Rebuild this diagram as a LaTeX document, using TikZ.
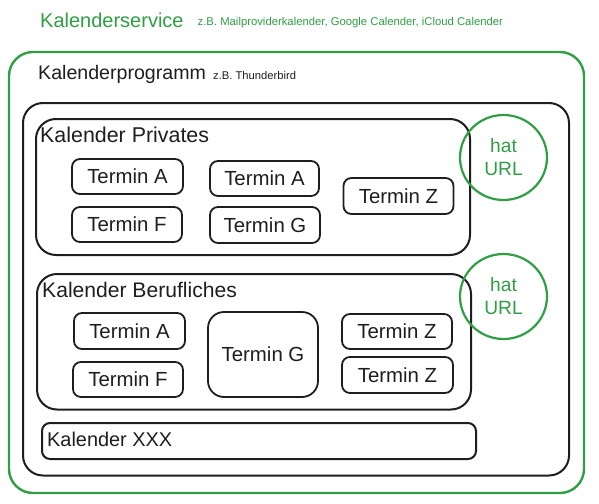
\documentclass[tikz,border=0pt]{standalone}
\usepackage{fontspec}
\setmainfont{Liberation Sans}
\usetikzlibrary{shapes.geometric}
\definecolor{exgreen}{HTML}{2F9E44}
\definecolor{ink}{HTML}{1E1E1E}
\tikzset{
  tbox/.style={draw=ink, line width=1.8pt, rounded corners=8pt, inner sep=0pt, text=ink,
    font=\fontsize{20.4}{24}\selectfont},
  frame/.style={draw=ink, line width=2pt, rounded corners=20pt, inner sep=0pt},
  gframe/.style={draw=exgreen, line width=2.4pt, rounded corners=24pt, inner sep=0pt},
  lbl/.style={anchor=base west, inner sep=0pt, text=ink},
  urlc/.style={draw=exgreen, line width=2.2pt, ellipse, inner sep=0pt, text=exgreen, align=center,
    font=\fontsize{19.2}{23}\selectfont}
}
\begin{document}
\begin{tikzpicture}[x=1pt,y=-1pt]
\useasboundingbox (0,0) rectangle (599,503);
% titles
\node[lbl, text=exgreen, font=\fontsize{20}{24}\selectfont] (svc) at (40,27.5) {Kalenderservice};
\node[lbl, text=exgreen, font=\fontsize{11.3}{13}\selectfont] (svcex) at (197.5,26) {z.B. Mailproviderkalender, Google Calender, iCloud Calender};
% outer frames
\node[gframe, minimum width=575pt, minimum height=441pt] (service) at (296.5,272.5) {};
\node[lbl, font=\fontsize{19.6}{24}\selectfont] (prog) at (38,79) {Kalenderprogramm};
\node[lbl, font=\fontsize{11.2}{13}\selectfont] (progex) at (213,79) {z.B. Thunderbird};
\node[frame, minimum width=546pt, minimum height=372.5pt] (program) at (296,289.25) {};
% Kalender Privates
\node[frame, minimum width=434pt, minimum height=136pt] (priv) at (253,187) {};
\node[lbl, font=\fontsize{21.4}{24}\selectfont] (privlbl) at (40,142) {Kalender Privates};
\node[tbox, minimum width=111pt, minimum height=35pt] (pa1) at (127.5,176.5) {Termin A};
\node[tbox, minimum width=109pt, minimum height=35pt] (pa2) at (264.5,178.5) {Termin A};
\node[tbox, minimum width=110pt, minimum height=36pt] (pz) at (398.5,196) {Termin Z};
\node[tbox, minimum width=110pt, minimum height=35pt] (pf) at (127,224.5) {Termin F};
\node[tbox, minimum width=110pt, minimum height=36pt] (pg) at (265,225) {Termin G};
% Kalender Berufliches
\node[frame, minimum width=434pt, minimum height=135.5pt] (beruf) at (254,341.75) {};
\node[lbl, font=\fontsize{21.1}{24}\selectfont] (beruflbl) at (42,297) {Kalender Berufliches};
\node[tbox, minimum width=111pt, minimum height=36pt] (ba) at (129.5,331) {Termin A};
\node[tbox, minimum width=110pt, minimum height=35pt] (bf) at (128,379.5) {Termin F};
\node[tbox, rounded corners=16pt, minimum width=110pt, minimum height=85pt] (bg) at (263,354.5) {Termin G};
\node[tbox, minimum width=110pt, minimum height=35pt] (bz1) at (397,331.5) {Termin Z};
\node[tbox, minimum width=111pt, minimum height=36pt] (bz2) at (397.5,375) {Termin Z};
% Kalender XXX
\node[frame, rounded corners=8pt, minimum width=434pt, minimum height=36pt] (xxx) at (259,441) {};
\node[lbl, font=\fontsize{19.9}{24}\selectfont] (xxxlbl) at (47,446) {Kalender XXX};
% URL circles
\node[urlc, minimum width=87pt, minimum height=85pt] (url1) at (503.5,157.5) {hat\\URL};
\node[urlc, minimum width=87pt, minimum height=85pt] (url2) at (503.5,296.5) {hat\\URL};
\end{tikzpicture}
\end{document}
